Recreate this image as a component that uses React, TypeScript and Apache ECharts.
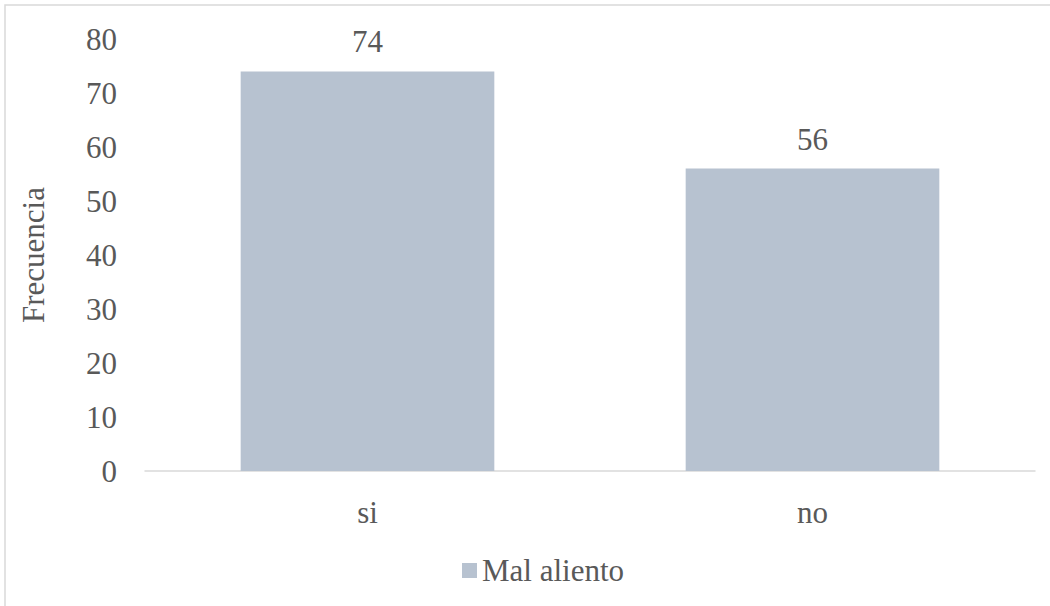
import React, { useEffect, useRef } from "react";
import * as echarts from "echarts";

const categories = ["si", "no"];
const values = [74, 56];
const seriesName = "Mal aliento";
const yAxisName = "Frecuencia";

export default function App() {
  const ref = useRef<HTMLDivElement>(null);
  useEffect(() => {
    document.body.style.margin = "0";
    const chart = echarts.init(ref.current!, null, { renderer: "svg" });
    const font = "Liberation Serif";
    const fs = 31;
    chart.setOption({
      animation: false,
      backgroundColor: "#ffffff",
      textStyle: { fontFamily: font },
      graphic: [
        {
          type: "rect",
          shape: { x: 5, y: 5, width: 1200, height: 800 },
          style: { fill: "none", stroke: "#d9d9d9", lineWidth: 1.5 },
          silent: true,
        },
      ],
      grid: { left: 145, right: 15, top: 39, bottom: 135 },
      legend: {
        bottom: 15,
        left: 457,
        itemWidth: 15,
        itemHeight: 15,
        itemGap: 8,
        icon: "rect",
        textStyle: { fontFamily: font, fontSize: fs, color: "#595959", padding: [0, 0, 0, 0] },
        data: [seriesName],
      },
      xAxis: {
        type: "category",
        data: categories,
        axisLine: { lineStyle: { color: "#d9d9d9", width: 1.5 } },
        axisTick: { show: false },
        axisLabel: { fontFamily: font, fontSize: fs, color: "#595959", margin: 26 },
      },
      yAxis: {
        type: "value",
        min: 0,
        max: 80,
        interval: 10,
        name: yAxisName,
        nameLocation: "middle",
        nameGap: 96,
        nameTextStyle: { fontFamily: font, fontSize: fs, color: "#595959" },
        axisLine: { show: false },
        axisTick: { show: false },
        splitLine: { show: false },
        axisLabel: { fontFamily: font, fontSize: fs, color: "#595959", margin: 28 },
      },
      series: [
        {
          name: seriesName,
          type: "bar",
          data: values,
          barWidth: "57%",
          itemStyle: { color: "#b7c2d0" },
          label: {
            show: true,
            position: "top",
            distance: 14,
            fontFamily: font,
            fontSize: fs,
            color: "#595959",
          },
        },
      ],
    });
    return () => chart.dispose();
  }, []);
  return (
    <div
      ref={ref}
      style={{ position: "fixed", left: 0, top: 0, width: 1050, height: 606 }}
    />
  );
}
